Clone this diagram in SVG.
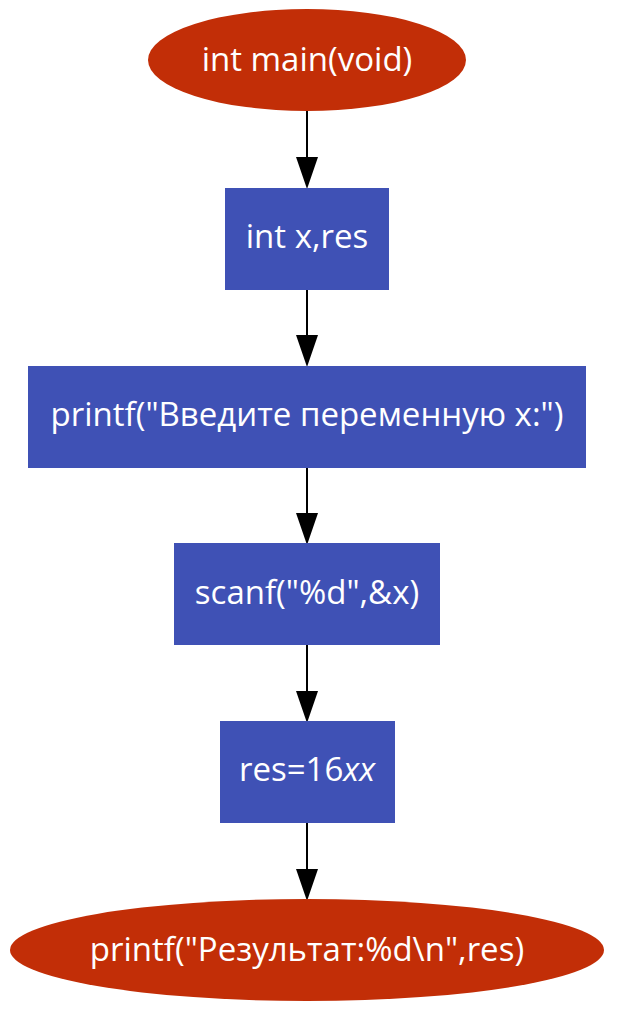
<svg xmlns="http://www.w3.org/2000/svg" width="628" height="1025" viewBox="0 0 628 1025">
<style>
.term{fill:#c22e07}
.proc{fill:#3f51b5}
.lbl{font-family:"Open Sans",sans-serif;font-size:33px;fill:#ffffff;text-anchor:middle}
.edge{stroke:#000;stroke-width:2;fill:none}
</style>
<rect width="628" height="1025" fill="#ffffff"/>
<g id="connectors">
<line class="edge" x1="307" y1="111" x2="307" y2="160"/>
<polygon points="296,157 318,157 307,189"/>
<line class="edge" x1="307" y1="290" x2="307" y2="338"/>
<polygon points="296,335 318,335 307,367"/>
<line class="edge" x1="307" y1="468" x2="307" y2="516"/>
<polygon points="296,513 318,513 307,545"/>
<line class="edge" x1="307" y1="645" x2="307" y2="694"/>
<polygon points="296,691 318,691 307,723"/>
<line class="edge" x1="307" y1="823" x2="307" y2="872"/>
<polygon points="296,869 318,869 307,901"/>
</g>
<g id="n1">
<ellipse class="term" cx="307" cy="60" rx="159" ry="51"/>
<text class="lbl" x="307" y="71">int main(void)</text>
</g>
<g id="n2">
<rect class="proc" x="225" y="188" width="164" height="102"/>
<text class="lbl" x="307" y="248">int x,res</text>
</g>
<g id="n3">
<rect class="proc" x="28" y="366" width="558" height="102"/>
<text class="lbl" x="307" y="426">printf("Введите переменную x:")</text>
</g>
<g id="n4">
<rect class="proc" x="174" y="543" width="266" height="102"/>
<text class="lbl" x="307" y="604">scanf("%d",&amp;x)</text>
</g>
<g id="n5">
<rect class="proc" x="220" y="721" width="175" height="102"/>
<text class="lbl" x="307" y="781">res=16<tspan font-style="italic">xx</tspan></text>
</g>
<g id="n6">
<ellipse class="term" cx="307" cy="950" rx="297" ry="51"/>
<text class="lbl" x="307" y="961">printf("Результат:%d\n",res)</text>
</g>
</svg>
